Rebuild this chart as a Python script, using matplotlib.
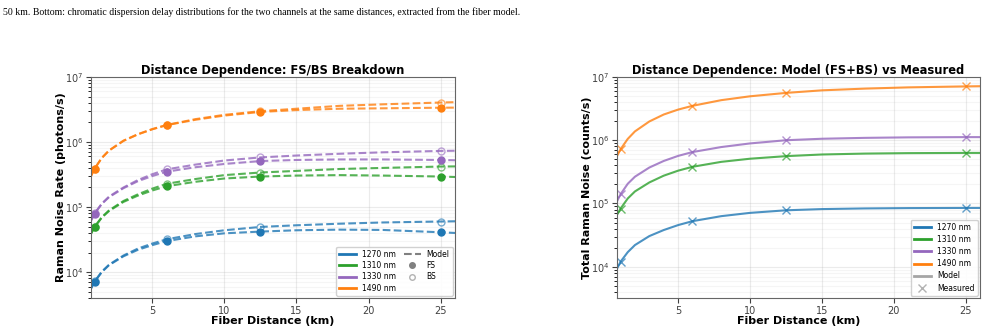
import matplotlib
matplotlib.use('Agg')
import matplotlib.pyplot as plt
from matplotlib.lines import Line2D

# distances where the points were taken (km)
dist_pts = [1, 6, 12.5, 25]
dist_model = [0.75, 1, 1.5, 2, 3, 4, 5, 6, 8, 10, 12.5, 15, 18, 21, 25, 26]

channels = ['1270 nm', '1310 nm', '1330 nm', '1490 nm']
colors = ['tab:blue', 'tab:green', 'tab:purple', 'tab:orange']

# left panel: model FS / BS curves (photons/s)
fs_model = {
    '1270 nm': [5.6e3, 7.1e3, 1.0e4, 1.28e4, 1.75e4, 2.2e4, 2.6e4, 3.0e4, 3.55e4, 3.95e4, 4.2e4, 4.4e4, 4.5e4, 4.45e4, 4.1e4, 4.0e4],
    '1310 nm': [3.9e4, 4.9e4, 6.9e4, 8.7e4, 1.2e5, 1.5e5, 1.8e5, 2.09e5, 2.45e5, 2.75e5, 2.95e5, 3.05e5, 3.1e5, 3.05e5, 2.95e5, 2.9e5],
    '1330 nm': [6.2e4, 7.9e4, 1.12e5, 1.42e5, 1.95e5, 2.5e5, 3.0e5, 3.5e5, 4.1e5, 4.6e5, 5.1e5, 5.3e5, 5.4e5, 5.4e5, 5.3e5, 5.25e5],
    '1490 nm': [3.0e5, 3.9e5, 5.7e5, 7.4e5, 1.04e6, 1.31e6, 1.57e6, 1.82e6, 2.2e6, 2.55e6, 2.9e6, 3.1e6, 3.25e6, 3.3e6, 3.37e6, 3.38e6],
}
bs_model = {
    '1270 nm': [5.6e3, 7.2e3, 1.02e4, 1.3e4, 1.8e4, 2.3e4, 2.75e4, 3.2e4, 3.85e4, 4.4e4, 4.95e4, 5.25e4, 5.55e4, 5.8e4, 6.0e4, 6.05e4],
    '1310 nm': [3.9e4, 5.0e4, 7.0e4, 8.9e4, 1.24e5, 1.57e5, 1.92e5, 2.28e5, 2.7e5, 3.1e5, 3.4e5, 3.6e5, 3.85e5, 4.0e5, 4.2e5, 4.22e5],
    '1330 nm': [6.2e4, 8.0e4, 1.13e5, 1.45e5, 2.0e5, 2.6e5, 3.2e5, 3.8e5, 4.5e5, 5.2e5, 5.8e5, 6.2e5, 6.6e5, 6.95e5, 7.3e5, 7.35e5],
    '1490 nm': [3.0e5, 3.9e5, 5.7e5, 7.4e5, 1.05e6, 1.32e6, 1.58e6, 1.83e6, 2.25e6, 2.62e6, 2.98e6, 3.25e6, 3.6e6, 3.8e6, 4.05e6, 4.1e6],
}
fs_pts = {
    '1270 nm': [7.1e3, 3.0e4, 4.2e4, 4.1e4],
    '1310 nm': [4.9e4, 2.09e5, 2.95e5, 2.95e5],
    '1330 nm': [7.9e4, 3.5e5, 5.1e5, 5.3e5],
    '1490 nm': [3.9e5, 1.82e6, 2.9e6, 3.37e6],
}
bs_pts = {
    '1270 nm': [7.2e3, 3.2e4, 4.95e4, 6.0e4],
    '1310 nm': [5.0e4, 2.28e5, 3.4e5, 4.2e5],
    '1330 nm': [8.0e4, 3.8e5, 5.8e5, 7.3e5],
    '1490 nm': [3.9e5, 1.83e6, 2.98e6, 4.05e6],
}

# right panel: total model (FS+BS) and measured (counts/s)
total_model = {
    '1270 nm': [9.3e3, 1.2e4, 1.7e4, 2.2e4, 3.05e4, 3.8e4, 4.55e4, 5.25e4, 6.3e4, 7.1e4, 7.8e4, 8.15e4, 8.35e4, 8.45e4, 8.5e4, 8.5e4],
    '1310 nm': [6.6e4, 8.3e4, 1.2e5, 1.55e5, 2.15e5, 2.75e5, 3.3e5, 3.8e5, 4.55e5, 5.1e5, 5.6e5, 5.95e5, 6.15e5, 6.25e5, 6.3e5, 6.3e5],
    '1330 nm': [1.08e5, 1.4e5, 2.05e5, 2.65e5, 3.7e5, 4.7e5, 5.65e5, 6.5e5, 7.8e5, 8.9e5, 1.0e6, 1.055e6, 1.09e6, 1.11e6, 1.12e6, 1.12e6],
    '1490 nm': [5.6e5, 7.2e5, 1.05e6, 1.38e6, 1.98e6, 2.55e6, 3.05e6, 3.5e6, 4.3e6, 4.95e6, 5.6e6, 6.15e6, 6.55e6, 6.85e6, 7.1e6, 7.15e6],
}
measured = {
    '1270 nm': [1.2e4, 5.25e4, 7.9e4, 8.5e4],
    '1310 nm': [8.3e4, 3.8e5, 5.6e5, 6.3e5],
    '1330 nm': [1.4e5, 6.5e5, 1.0e6, 1.12e6],
    '1490 nm': [7.2e5, 3.5e6, 5.6e6, 7.1e6],
}

caption = ('50 km. Bottom: chromatic dispersion delay distributions for the two channels '
           'at the same distances, extracted from the fiber model.')

fig = plt.figure(figsize=(9.87, 3.29), dpi=100)
fig.text(0.003, 0.962, caption, family='Liberation Serif', fontsize=7.0, va='center', ha='left')

ax1 = fig.add_axes([0.0922, 0.0942, 0.3688, 0.6718])
ax2 = fig.add_axes([0.6251, 0.0942, 0.3679, 0.6718])

for ch, c in zip(channels, colors):
    ax1.plot(dist_model, fs_model[ch], '--', color=c, lw=1.5, alpha=0.8)
    ax1.plot(dist_model, bs_model[ch], '--', color=c, lw=1.5, alpha=0.8)
    ax1.plot(dist_pts, fs_pts[ch], 'o', color=c, ms=5)
    ax1.plot(dist_pts, bs_pts[ch], 'o', mfc='none', mec=c, ms=5, alpha=0.6)

    ax2.plot(dist_model, total_model[ch], '-', color=c, lw=1.5, alpha=0.8)
    ax2.plot(dist_pts, measured[ch], 'x', color=c, ms=6, mew=1, alpha=0.7)

for ax in (ax1, ax2):
    ax.set_yscale('log')
    ax.set_xlim(0.75, 26)
    ax.grid(True, which='major', alpha=0.25)
    ax.grid(True, which='minor', alpha=0.12)
    ax.tick_params(labelsize=7, colors='0.25', pad=2)
    for s in ax.spines.values():
        s.set_color('0.4')
    ax.set_xlabel('Fiber Distance (km)', fontsize=8, fontweight='bold', labelpad=0)

ax1.set_ylim(4e3, 1e7)
ax2.set_ylim(3.2e3, 1e7)

ax1.set_ylabel('Raman Noise Rate (photons/s)', fontsize=8, fontweight='bold')
ax2.set_ylabel('Total Raman Noise (counts/s)', fontsize=8, fontweight='bold')
ax1.yaxis.set_label_coords(-0.068, 0.5)
ax2.yaxis.set_label_coords(-0.068, 0.5)
ax1.set_title('Distance Dependence: FS/BS Breakdown', fontsize=8.3, fontweight='bold', pad=2)
ax2.set_title('Distance Dependence: Model (FS+BS) vs Measured', fontsize=8.3, fontweight='bold', pad=2)

ch_handles = [Line2D([], [], color=c, lw=2) for c in colors]
left_handles = ch_handles + [
    Line2D([], [], color='gray', ls='--', lw=1.5),
    Line2D([], [], color='gray', marker='o', ls='none', ms=4),
    Line2D([], [], color='gray', marker='o', mfc='none', ls='none', ms=4, alpha=0.6),
]
ax1.legend(left_handles, channels + ['Model', 'FS', 'BS'], ncol=2, loc='lower right',
           fontsize=5.5, handlelength=2.2, labelspacing=0.3, columnspacing=1.0,
           borderaxespad=0.3, framealpha=0.9)

right_handles = ch_handles + [
    Line2D([], [], color='gray', lw=2, alpha=0.7),
    Line2D([], [], color='gray', marker='x', ls='none', ms=6, alpha=0.6),
]
ax2.legend(right_handles, channels + ['Model', 'Measured'], loc='lower right',
           fontsize=5.5, handlelength=2.3, labelspacing=0.42, borderaxespad=0.3,
           framealpha=0.9)

fig.savefig('out.png', dpi=100)
